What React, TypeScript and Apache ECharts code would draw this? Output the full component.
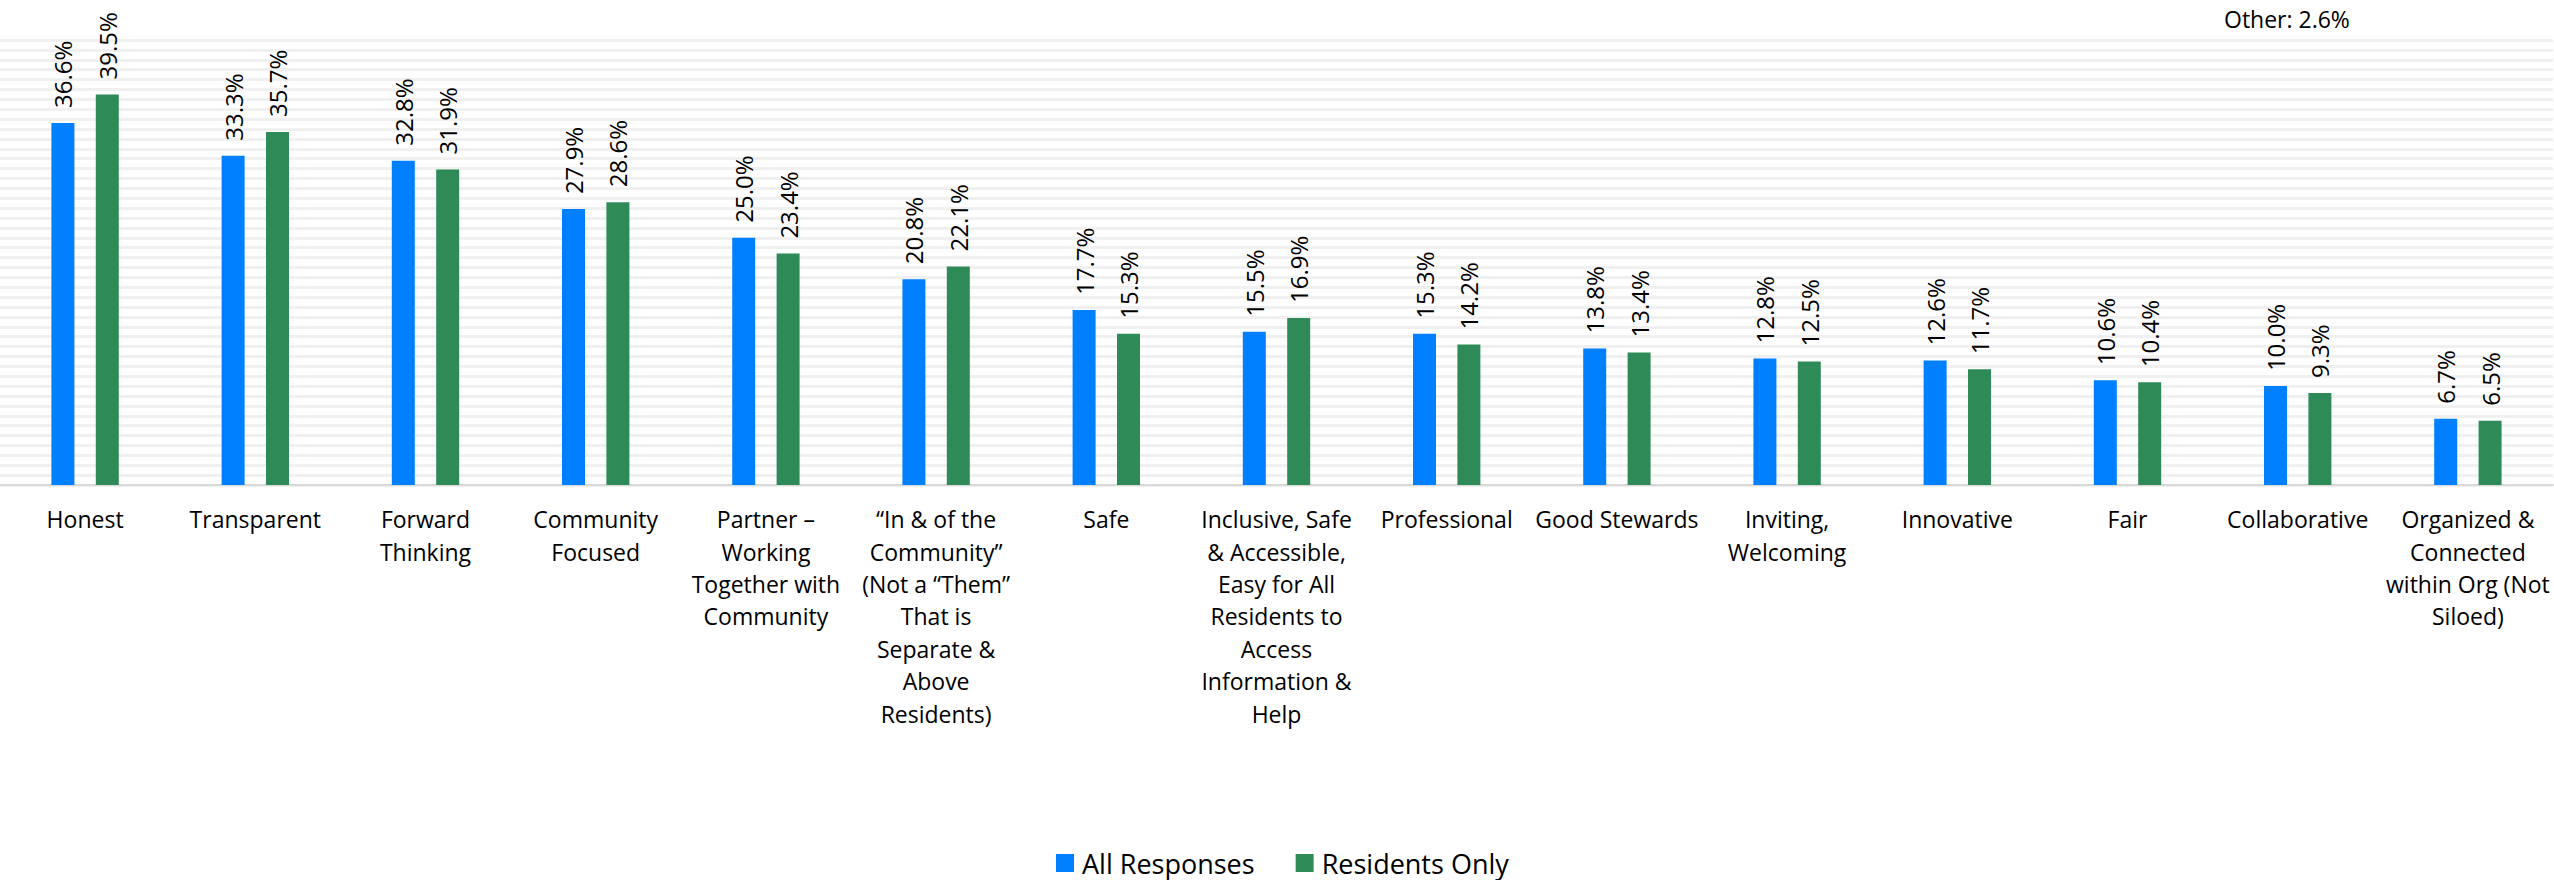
import React, { useEffect, useRef } from "react";
import * as echarts from "echarts";

const categories = [
  "Honest",
  "Transparent",
  "Forward\nThinking",
  "Community\nFocused",
  "Partner –\nWorking\nTogether with\nCommunity",
  "“In & of the\nCommunity”\n(Not a “Them”\nThat is\nSeparate &\nAbove\nResidents)",
  "Safe",
  "Inclusive, Safe\n& Accessible,\nEasy for All\nResidents to\nAccess\nInformation &\nHelp",
  "Professional",
  "Good Stewards",
  "Inviting,\nWelcoming",
  "Innovative",
  "Fair",
  "Collaborative",
  "Organized &\nConnected\nwithin Org (Not\nSiloed)",
];

const allResponses = [36.6, 33.3, 32.8, 27.9, 25.0, 20.8, 17.7, 15.5, 15.3, 13.8, 12.8, 12.6, 10.6, 10.0, 6.7];
const residentsOnly = [39.5, 35.7, 31.9, 28.6, 23.4, 22.1, 15.3, 16.9, 14.2, 13.4, 12.5, 11.7, 10.4, 9.3, 6.5];

const seriesNames = ["All Responses", "Residents Only"];
const seriesColors = ["#0080FF", "#2E8B57"];
const otherNote = "Other: 2.6%";

const FONT = "'Open Sans', 'Noto Sans', sans-serif";

export default function App() {
  const ref = useRef<HTMLDivElement>(null);

  useEffect(() => {
    if (!ref.current) return;
    const chart = echarts.init(ref.current, null, { renderer: "svg" });

    const valueLabel = {
      show: true,
      position: "top",
      rotate: 90,
      align: "left",
      verticalAlign: "middle",
      distance: 15,
      fontSize: 24,
      fontFamily: FONT,
      color: "#000",
      formatter: (p: any) => Number(p.value).toFixed(1) + "%",
    };

    chart.setOption({
      animation: false,
      backgroundColor: "#ffffff",
      grid: { left: -7, right: 1, top: 40, bottom: 395, containLabel: false },
      legend: {
        data: seriesNames,
        left: 1056,
        top: 848,
        icon: "rect",
        itemWidth: 18,
        itemHeight: 18,
        itemGap: 41,
        padding: 0,
        textStyle: { fontSize: 27, fontFamily: FONT, color: "#000", lineHeight: 30, padding: [0, 0, 0, 3] },
      },
      xAxis: {
        type: "category",
        data: categories,
        axisTick: { show: false },
        axisLine: { show: true, lineStyle: { color: "#d9d9d9", width: 2 } },
        axisLabel: {
          interval: 0,
          fontSize: 23,
          fontFamily: FONT,
          color: "#000",
          lineHeight: 32.4,
          margin: 18,
          align: "center",
        },
        splitLine: { show: false },
      },
      yAxis: {
        type: "value",
        min: 0,
        max: 45,
        interval: 1,
        axisLabel: { show: false },
        axisLine: { show: false },
        axisTick: { show: false },
        splitLine: { show: true, lineStyle: { color: "#f0f0f0", width: 3 } },
      },
      graphic: [
        {
          type: "text",
          left: 2224,
          top: 7,
          style: { text: otherNote, fontSize: 23, fontFamily: FONT, fill: "#000" },
        },
      ],
      series: [
        {
          name: seriesNames[0],
          type: "bar",
          data: allResponses,
          barWidth: 23,
          barGap: "93%",
          itemStyle: { color: seriesColors[0] },
          label: valueLabel,
        },
        {
          name: seriesNames[1],
          type: "bar",
          data: residentsOnly,
          barWidth: 23,
          barGap: "93%",
          itemStyle: { color: seriesColors[1] },
          label: valueLabel,
        },
      ],
    });

    return () => chart.dispose();
  }, []);

  return (
    <div
      ref={ref}
      style={{ position: "absolute", left: 0, top: 0, width: 2554, height: 880 }}
    />
  );
}
